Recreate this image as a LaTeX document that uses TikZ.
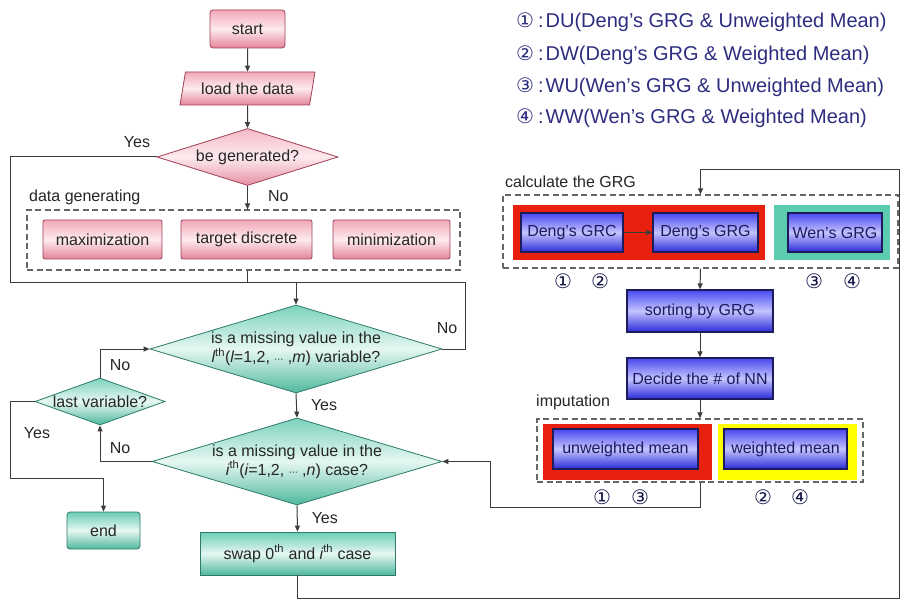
\documentclass[tikz,border=0pt]{standalone}
\usepackage{fontspec}
\setmainfont{Liberation Sans}
\newfontfamily\symfont{DejaVu Sans}
\usetikzlibrary{arrows.meta,shapes.geometric}
\definecolor{pinkT}{HTML}{F2A8B8}
\definecolor{pinkM}{HTML}{FDEBEF}
\definecolor{pinkB}{HTML}{E48499}
\definecolor{pinkD}{HTML}{A04055}
\definecolor{tealT}{HTML}{6CCDB5}
\definecolor{tealM}{HTML}{E6F7F2}
\definecolor{tealB}{HTML}{4FB89D}
\definecolor{tealD}{HTML}{2E7A68}
\definecolor{blueT}{HTML}{4848EE}
\definecolor{blueM}{HTML}{C4C4FF}
\definecolor{blueB}{HTML}{2A2AD8}
\definecolor{blueD}{HTML}{1C1C5C}
\definecolor{redbg}{HTML}{E8200E}
\definecolor{tealbg}{HTML}{5CCCB0}
\definecolor{yelbg}{HTML}{FFFF00}
\definecolor{lineC}{HTML}{3C3C3C}
\definecolor{legC}{HTML}{2E2E80}
\newcommand\nf{\fontsize{16}{18}\selectfont}
\newcommand\lf{\fontsize{20}{22}\selectfont}
\newcommand\cd[1]{{\symfont\fontsize{20}{20}\selectfont #1}\hspace{4pt}:\hspace{2pt}}
\tikzset{
  base/.style={inner sep=0pt, font=\nf, align=center},
  pinkbox/.style={base, draw=pinkD, line width=0.8, rounded corners=3, top color=pinkT, bottom color=pinkB, middle color=pinkM, text=black!85},
  tealbox/.style={base, draw=tealD, line width=0.8, top color=tealT, bottom color=tealB, middle color=tealM, text=black!85},
  bluebox/.style={base, draw=blueD, line width=1.3, top color=blueT, bottom color=blueB, middle color=blueM, text=blueD},
  pinkdiam/.style={diamond, inner sep=0pt, draw=pinkD, line width=0.8, top color=pinkT!80, bottom color=pinkB!90, middle color=pinkM},
  tealdiam/.style={diamond, inner sep=0pt, draw=tealD, line width=0.8, top color=tealT!90, bottom color=tealB, middle color=tealM},
  bgrect/.style={inner sep=0pt},
  dashbox/.style={inner sep=0pt, draw=black!60, line width=1.2, dash pattern=on 6pt off 3.5pt},
  lbl/.style={font=\nf, text=black!85, inner sep=0pt},
  txt/.style={font=\nf, text=black!85, inner sep=0pt, align=center},
  conn/.style={draw=lineC, line width=1},
  arr/.style={conn, -{Triangle[length=6pt,width=5pt]}},
  circ/.style={font=\symfont\fontsize{20}{22}\selectfont, text=blueD!80!black, inner sep=0pt},
  leg/.style={font=\lf, text=legC, inner sep=0pt, anchor=west}
}
\begin{document}
\begin{tikzpicture}[x=1pt,y=-1pt]
\useasboundingbox[fill=white] (0,0) rectangle (901,601);
% ---------- legend ----------
\node[leg] (l1) at (516,22) {\cd{①}DU(Deng's GRG \& Unweighted Mean)};
\node[leg] (l2) at (516,55) {\cd{②}DW(Deng's GRG \& Weighted Mean)};
\node[leg] (l3) at (516,87) {\cd{③}WU(Wen's GRG \& Unweighted Mean)};
\node[leg] (l4) at (516,118) {\cd{④}WW(Wen's GRG \& Weighted Mean)};
% ---------- left column ----------
\node[pinkbox, minimum width=75, minimum height=38] (start) at (247.5,29) {start};
\node[trapezium, trapezium left angle=65, trapezium right angle=115, trapezium stretches body,
      base, draw=pinkD, line width=0.8, top color=pinkT, bottom color=pinkB, middle color=pinkM, text=black!85,
      minimum width=135, minimum height=33] (load) at (247.5,88.5) {load the data};
\node[pinkdiam, minimum width=181, minimum height=57] (gen) at (247.5,157) {};
\node[txt] (gent) at (gen.center) {be generated?};
\node[dashbox, minimum width=433, minimum height=60] (dg) at (243.5,240) {};
\node[lbl, anchor=west] (dgl) at (29,197) {data generating};
\node[pinkbox, rounded corners=2, minimum width=119, minimum height=39] (max) at (102.5,239.5) {maximization};
\node[pinkbox, rounded corners=2, minimum width=131, minimum height=39] (tgt) at (246.5,239.5) {target discrete};
\node[pinkbox, rounded corners=2, minimum width=117, minimum height=39] (min) at (391.5,239.5) {minimization};
\node[tealdiam, minimum width=292, minimum height=88] (var) at (296,349) {};
\node[txt] (vart) at (var.center) {is a missing value in the\\[1pt]{\itshape l}\textsuperscript{th}({\itshape l}=1,2, {\symfont\fontsize{9}{9}\selectfont ⋯} ,{\itshape m}) variable?};
\node[tealdiam, minimum width=130, minimum height=47] (last) at (100,401.5) {};
\node[txt] (lastt) at (last.center) {last variable?};
\node[tealdiam, minimum width=290, minimum height=87] (cas) at (297,461.5) {};
\node[txt] (cast) at (cas.center) {is a missing value in the\\[1pt]{\itshape i}\textsuperscript{th}({\itshape i}=1,2, {\symfont\fontsize{9}{9}\selectfont ⋯} ,{\itshape n}) case?};
\node[tealbox, rounded corners=3, minimum width=73, minimum height=37] (end) at (103.5,530.5) {end};
\node[tealbox, minimum width=195, minimum height=43] (swap) at (297.5,553.5) {swap 0\textsuperscript{th} and {\itshape i}\textsuperscript{th} case};
% ---------- right column ----------
\node[dashbox, minimum width=395, minimum height=73] (calc) at (700.5,231.5) {};
\node[lbl, anchor=west] (calcl) at (505,182) {calculate the GRG};
\node[bgrect, fill=redbg, minimum width=252, minimum height=55] (redA) at (639,232.5) {};
\node[bgrect, fill=tealbg, minimum width=116, minimum height=55] (tealA) at (832,232.5) {};
\node[bluebox, minimum width=102, minimum height=39] (grc) at (572,232.5) {Deng's GRC};
\node[bluebox, minimum width=105, minimum height=39] (grg) at (705.5,232.5) {Deng's GRG};
\node[bluebox, minimum width=94, minimum height=39] (wen) at (835,232.5) {Wen's GRG};
\node[circ] (c1a) at (563,281) {①};
\node[circ] (c2a) at (600,281) {②};
\node[circ] (c3a) at (814,281) {③};
\node[circ] (c4a) at (852,281) {④};
\node[bluebox, minimum width=146, minimum height=42] (sort) at (700,311) {sorting by GRG};
\node[bluebox, minimum width=146, minimum height=41] (dec) at (700,378.5) {Decide the \# of NN};
\node[dashbox, minimum width=326, minimum height=63] (imp) at (700,450.5) {};
\node[lbl, anchor=west] (impl) at (536,402) {imputation};
\node[bgrect, fill=redbg, minimum width=169, minimum height=56] (redB) at (627.5,452) {};
\node[bgrect, fill=yelbg, minimum width=139, minimum height=56] (yelB) at (787.5,452) {};
\node[bluebox, minimum width=145, minimum height=40] (unw) at (625.5,449) {unweighted mean};
\node[bluebox, minimum width=123, minimum height=40] (wm) at (785.5,449) {weighted mean};
\node[circ] (c1b) at (602,497) {①};
\node[circ] (c3b) at (640,497) {③};
\node[circ] (c2b) at (763,497) {②};
\node[circ] (c4b) at (800,497) {④};
% ---------- coordinates ----------
\coordinate (j1) at (10,283);
\coordinate (j2) at (465,283);
\coordinate (jd) at (247,283);
\coordinate (jv) at (296,283);
\coordinate (lv) at (100,349);
\coordinate (lc) at (100,461.5);
\coordinate (le) at (10,478);
\coordinate (le2) at (103.5,478);
\coordinate (sb) at (297.5,598);
\coordinate (rb) at (899,598);
\coordinate (rt) at (899,170);
\coordinate (ct) at (700.5,170);
\coordinate (ib) at (700,507);
\coordinate (ib2) at (490,507);
% ---------- connectors ----------
\draw[arr] (start) -- (load);
\draw[arr] (load) -- (gen.north);
\draw[arr] (gen.south) -- (gen.south|-dg.north) node[lbl, pos=0.45, right=20pt] (no1) {No};
\node[lbl] (yes1) at (137,142) {Yes};
\draw[conn] (gen.west) -| (j1) -- (j2) |- (var.east);
\node[lbl] (no2) at (447,328) {No};
\draw[conn] (dg.south-|jd) -- (jd);
\draw[arr] (jv) -- (var.north);
\draw[arr] (var.south) -- (cas.north) node[lbl, midway, right=14pt] (yes2) {Yes};
\draw[arr] (cas.west) -- (lc) -- (last.south);
\node[lbl] (no3) at (120,448) {No};
\draw[arr] (last.north) -- (lv) -- (var.west);
\node[lbl] (no4) at (120,365) {No};
\draw[arr] (last.west) -| (le) -- (le2) -- (end.north);
\node[lbl] (yes3) at (37,433) {Yes};
\draw[arr] (cas.south) -- (swap.north) node[lbl, midway, right=14pt] (yes4) {Yes};
\draw[arr] (swap.south) -- (sb) -- (rb) -- (rt) -- (ct) -- (calc.north);
\draw[arr] (grc) -- (grg);
\draw[arr] (calc.south) -- (sort.north);
\draw[arr] (sort) -- (dec);
\draw[arr] (dec.south) -- (imp.north);
\draw[arr] (imp.south) -- (ib) -- (ib2) |- (cas.east);
\end{tikzpicture}
\end{document}
